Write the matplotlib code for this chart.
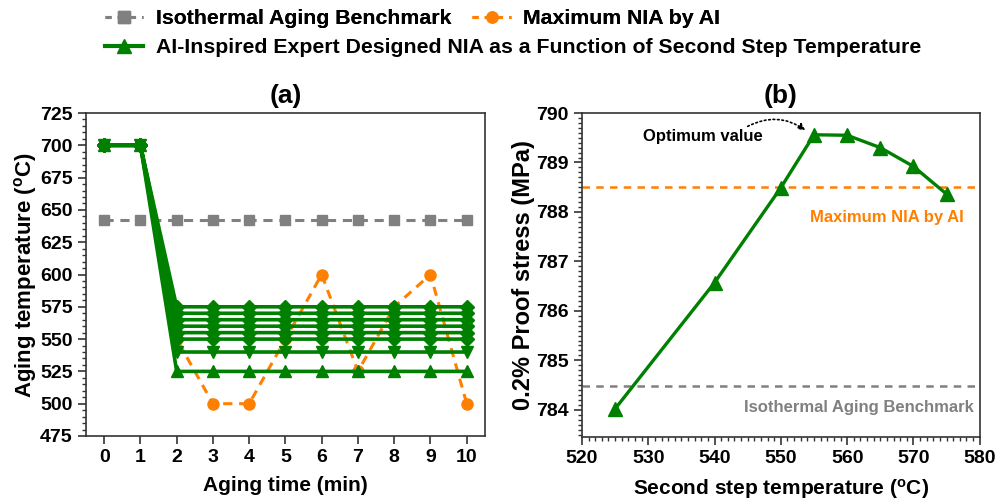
import matplotlib
matplotlib.use("Agg")
import matplotlib.pyplot as plt
from matplotlib.lines import Line2D
from matplotlib.ticker import MultipleLocator

plt.rcParams['font.family'] = ['Liberation Sans', 'DejaVu Sans']
plt.rcParams['font.weight'] = 'bold'
plt.rcParams['mathtext.fontset'] = 'custom'
plt.rcParams['mathtext.rm'] = 'Liberation Sans:bold'
plt.rcParams['mathtext.it'] = 'Liberation Sans:bold'
plt.rcParams['mathtext.bf'] = 'Liberation Sans:bold'

# ---- data ----
aging_time = [0, 1, 2, 3, 4, 5, 6, 7, 8, 9, 10]
first_step_temp = 700
second_step_temps = [525, 540, 550, 555, 560, 565, 570, 575]
second_step_markers = ['^', 'v', 'D', 'D', 'D', 'D', 'D', 'D']
isothermal_temp = [642] * 11
ai_nia_temp = [700, 700, 550, 500, 500, 550, 600, 525, 575, 600, 500]

proof_stress = [784.02, 786.57, 788.49, 789.56, 789.55, 789.30, 788.92, 788.36]
ai_max_stress = 788.5
isothermal_stress = 784.48

GREEN = '#008000'
ORANGE = '#FF8000'
GRAY = '#808080'
SPINE = '#333333'

fig = plt.figure(figsize=(9.97, 5.0), dpi=100)
ax1 = fig.add_axes([0.0863, 0.128, 0.400, 0.646])
ax2 = fig.add_axes([0.5837, 0.126, 0.399, 0.648])

# ---- panel (a) ----
ax1.plot(aging_time, isothermal_temp, color=GRAY, ls='--', lw=2.2, marker='s',
         ms=7.5, dashes=(3, 2.2), zorder=2)
for T, m in zip(second_step_temps, second_step_markers):
    y = [first_step_temp, first_step_temp] + [T] * (len(aging_time) - 2)
    ax1.plot(aging_time, y, color=GREEN, lw=2.6, marker=m,
             ms=9 if m in '^v' else 7.5, zorder=3)
ax1.plot(aging_time, ai_nia_temp, color=ORANGE, ls='--', lw=2.2, marker='o',
         ms=8, dashes=(3, 2.2), zorder=2)

ax1.set_xlim(-0.5, 10.5)
ax1.set_ylim(475, 725)
ax1.set_xticks(aging_time)
ax1.yaxis.set_major_locator(MultipleLocator(25))
ax1.yaxis.set_minor_locator(MultipleLocator(5))
ax1.set_xlabel('Aging time (min)', fontsize=15, fontweight='bold', labelpad=7)
ax1.set_ylabel(r'Aging temperature ($^{\mathrm{o}}$C)', fontsize=16,
               fontweight='bold', labelpad=1)
ax1.set_title('(a)', fontsize=19, fontweight='bold', pad=7)

# ---- panel (b) ----
ax2.axhline(ai_max_stress, color=ORANGE, ls='--', lw=1.8, dashes=(3, 2.5), zorder=1)
ax2.axhline(isothermal_stress, color=GRAY, ls='--', lw=1.8, dashes=(3, 2.5), zorder=1)
ax2.plot(second_step_temps, proof_stress, color=GREEN, lw=2.4, marker='^',
         ms=10, zorder=3)
ax2.text(577.6, 787.88, 'Maximum NIA by AI', color=ORANGE, fontsize=12,
         fontweight='bold', ha='right', va='center')
ax2.text(579.1, 784.04, 'Isothermal Aging Benchmark', color=GRAY, fontsize=12,
         fontweight='bold', ha='right', va='center')
ax2.text(538.2, 789.52, 'Optimum value', fontsize=12, fontweight='bold',
         ha='center', va='center')
ax2.annotate('', xy=(553.7, 789.65), xytext=(545.0, 789.73),
             arrowprops=dict(arrowstyle='-|>', linestyle=':', lw=1.2,
                             color='black', connectionstyle='arc3,rad=-0.3',
                             shrinkA=0, shrinkB=0, mutation_scale=10))

ax2.set_xlim(520, 580)
ax2.set_ylim(783.45, 790)
ax2.xaxis.set_major_locator(MultipleLocator(10))
ax2.xaxis.set_minor_locator(MultipleLocator(1))
ax2.yaxis.set_major_locator(MultipleLocator(1))
ax2.yaxis.set_minor_locator(MultipleLocator(0.1))
ax2.set_xlabel(r'Second step temperature ($^{\mathrm{o}}$C)', fontsize=15,
               fontweight='bold', labelpad=7)
ax2.set_ylabel('0.2% Proof stress (MPa)', fontsize=17, fontweight='bold', labelpad=1)
ax2.set_title('(b)', fontsize=19, fontweight='bold', pad=7)

for ax in (ax1, ax2):
    for s in ax.spines.values():
        s.set_color(SPINE)
        s.set_linewidth(1.2)
    ax.tick_params(which='major', direction='out', length=6, width=1.2,
                   labelsize=14, color=SPINE)
    ax.tick_params(which='minor', direction='out', length=3, width=1.0, color=SPINE)
    for lab in ax.get_xticklabels() + ax.get_yticklabels():
        lab.set_fontweight('bold')

# ---- legend ----
h_iso = Line2D([], [], color=GRAY, ls='--', lw=2.2, marker='s', ms=8, dashes=(2, 2))
h_ai = Line2D([], [], color=ORANGE, ls='--', lw=2.2, marker='o', ms=8, dashes=(2, 2))
h_gr = Line2D([], [], color=GREEN, lw=3, marker='^', ms=10)
leg1 = fig.legend([h_iso, h_ai], ['Isothermal Aging Benchmark', 'Maximum NIA by AI'],
                  loc='upper left', bbox_to_anchor=(0.086, 1.02), ncol=2,
                  frameon=False, handlelength=1.8, handletextpad=0.6,
                  columnspacing=1.0, prop={'size': 15.3, 'weight': 'bold'})
fig.add_artist(leg1)
fig.legend([h_gr], ['AI-Inspired Expert Designed NIA as a Function of Second Step Temperature'],
           loc='upper left', bbox_to_anchor=(0.086, 0.962), frameon=False,
           handlelength=1.8, handletextpad=0.6, prop={'size': 15.3, 'weight': 'bold'})

fig.savefig('out.png', dpi=100)
